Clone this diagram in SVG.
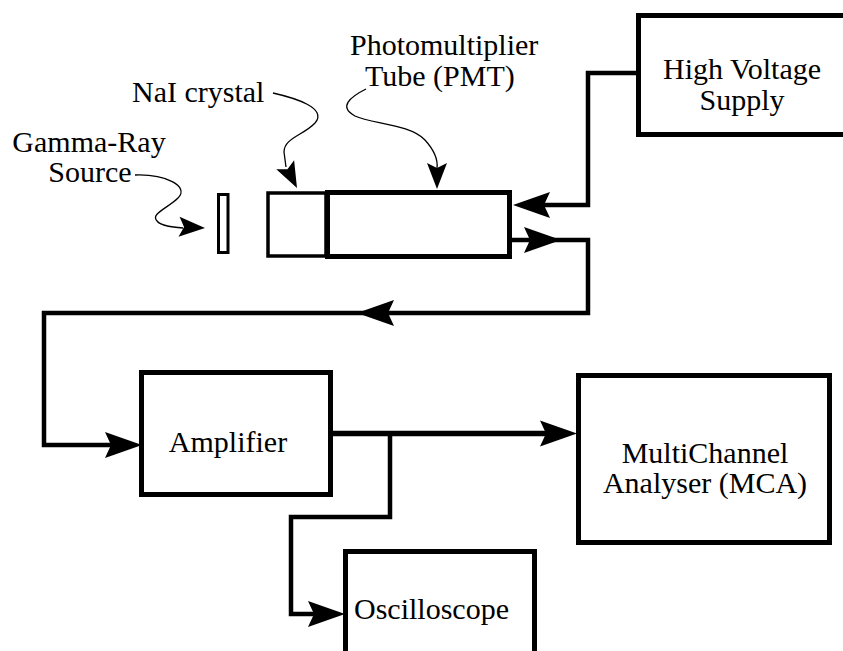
<svg xmlns="http://www.w3.org/2000/svg" width="843" height="651" viewBox="0 0 843 651">
<style>
.box{fill:#fff;stroke:#000;stroke-width:5}
.thin{fill:#fff;stroke:#000;stroke-width:3.5}
.wire{fill:none;stroke:#000;stroke-width:4.5;stroke-linejoin:miter}
.lead{fill:none;stroke:#000;stroke-width:1.3}
text{font-family:"Liberation Serif","Times New Roman",serif;font-size:30px;fill:#000}
.m{text-anchor:middle}
</style>
<defs>
<path id="ah" d="M0,0 L-37,-13 L-31,0 L-37,13 Z" fill="#000"/>
<path id="lh" d="M0,0 L-26,-10 L-21,0 L-26,10 Z" fill="#000"/>
</defs>
<rect width="843" height="651" fill="#fff"/>
<g id="connectors">
<path class="wire" d="M637,73 H588 V205 H522"/>
<use href="#ah" transform="translate(513,205) rotate(180)"/>
<path class="wire" d="M512,240 H588 V313 H44 V445 H120"/>
<use href="#ah" transform="translate(561,240)"/>
<use href="#ah" transform="translate(357,313) rotate(180)"/>
<use href="#ah" transform="translate(142,445)"/>
<path class="wire" style="stroke-width:5.5" d="M331,433.5 H550"/>
<use href="#ah" transform="translate(577,433.5)"/>
<path class="wire" d="M390,433 V517 H291 V614 H320"/>
<use href="#ah" transform="translate(345,614)"/>
<path class="lead" d="M135,175 C165,174 190,186 178,198 C168,208 150,214 157,221 C161,226 172,227 183,228"/>
<use href="#lh" transform="translate(205,228) rotate(3)"/>
<path class="lead" d="M273,93 C295,98 328,108 315,123 C304,135 284,138 284,152 L286,167"/>
<use href="#lh" transform="translate(297,188) rotate(63)"/>
<path class="lead" d="M366,89 C350,97 338,107 355,116 C372,124 410,124 425,140 C434,150 438,160 437,168"/>
<use href="#lh" transform="translate(437,189) rotate(90)"/>
</g>
<g id="source"><rect class="thin" x="218.5" y="194.5" width="9.5" height="58" style="stroke-width:3"/></g>
<g id="nai"><rect class="thin" x="268" y="193" width="58" height="63"/></g>
<g id="pmt"><rect class="box" x="327.5" y="192.5" width="182" height="64"/></g>
<g id="hv">
<rect class="box" x="638.5" y="15.5" width="230" height="119"/>
<text class="m" x="742" y="79">High Voltage</text>
<text class="m" x="742" y="110">Supply</text>
</g>
<g id="amplifier">
<rect class="box" x="141.5" y="372.5" width="189" height="122"/>
<text class="m" x="228" y="452">Amplifier</text>
</g>
<g id="mca">
<rect class="box" x="578.5" y="375.5" width="251" height="167"/>
<text class="m" x="705" y="463">MultiChannel</text>
<text class="m" x="705" y="493">Analyser (MCA)</text>
</g>
<g id="oscilloscope">
<rect class="box" x="345.5" y="551.5" width="189" height="130"/>
<text x="354" y="619">Oscilloscope</text>
</g>
<g id="labels">
<text class="m" x="89" y="152">Gamma-Ray</text>
<text class="m" x="90" y="182">Source</text>
<text x="132" y="102">NaI crystal</text>
<text x="350" y="55">Photomultiplier</text>
<text x="365" y="86">Tube (PMT)</text>
</g>
</svg>
